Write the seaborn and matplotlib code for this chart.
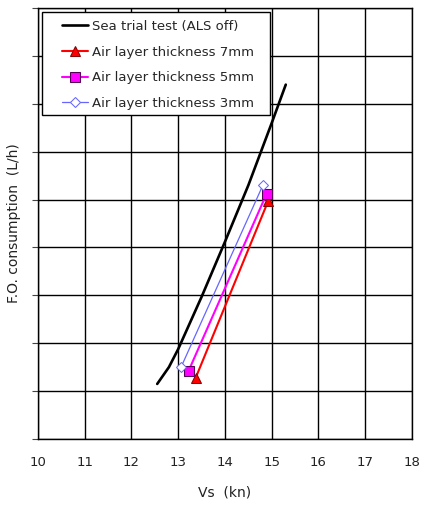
import matplotlib
matplotlib.use("Agg")
import matplotlib.pyplot as plt
from matplotlib.patches import Rectangle
import seaborn as sns
import pandas as pd

sns.set_style("white")
plt.rcParams['font.family'] = ['DejaVu Sans']

# Sea trial (ALS off)
sea_vs = [12.55, 12.8, 13.0, 13.5, 14.0, 14.5, 15.0, 15.3]
sea_fo = [1.15, 1.5, 1.88, 2.97, 4.12, 5.3, 6.6, 7.4]

# Air layer thickness series
vs_7mm = [13.37, 14.92]
fo_7mm = [1.27, 4.96]
vs_5mm = [13.22, 14.89]
fo_5mm = [1.42, 5.12]
vs_3mm = [13.06, 14.81]
fo_3mm = [1.50, 5.30]

x_ticks = [10, 11, 12, 13, 14, 15, 16, 17, 18]

W, H = 421, 505
fig = plt.figure(figsize=(W / 100, H / 100), dpi=100)
ax = fig.add_axes([38 / W, (H - 439) / H, 374 / W, 431 / H])

sea = pd.DataFrame({"Vs": sea_vs, "FO": sea_fo})
sns.lineplot(data=sea, x="Vs", y="FO", ax=ax, color="black", lw=1.9,
             sort=False, label="Sea trial test (ALS off)")
sns.lineplot(x=vs_7mm, y=fo_7mm, ax=ax, color="red", lw=1.5, marker="^",
             markersize=7, markerfacecolor="red", markeredgecolor="darkred",
             label="Air layer thickness 7mm")
sns.lineplot(x=vs_5mm, y=fo_5mm, ax=ax, color="magenta", lw=1.5, marker="s",
             markersize=7, markerfacecolor="magenta", markeredgecolor="#550055",
             label="Air layer thickness 5mm")
sns.lineplot(x=vs_3mm, y=fo_3mm, ax=ax, color="#6666ff", lw=0.9, marker="D",
             markersize=5, markerfacecolor="white", markeredgecolor="#6666ff",
             label="Air layer thickness 3mm")

ax.set_xlim(10, 18)
ax.set_ylim(0, 9)
ax.set_xticks(x_ticks)
ax.set_yticks(range(0, 10))
ax.set_yticklabels([])
ax.grid(True, color="black", lw=1.0)
for s in ax.spines.values():
    s.set_color("black")
    s.set_linewidth(1.0)
ax.tick_params(axis="x", length=0, pad=12, labelsize=9.5, colors="#222222")
ax.tick_params(axis="y", length=4, left=True, color="#444444")
ax.set_xlabel("Vs  (kn)", fontsize=10, labelpad=12, color="#222222")
ax.set_ylabel("F.O. consumption  (L/h)", fontsize=10, labelpad=5, color="#222222")

# legend frame (wider side padding than matplotlib allows)
frame = Rectangle((42 / W, (H - 115) / H), 228 / W, 103 / H,
                  transform=fig.transFigure, facecolor="white",
                  edgecolor="black", lw=1.0, zorder=4)
ax.add_patch(frame)
frame.set_clip_on(False)

leg = ax.legend(loc="upper left",
                bbox_to_anchor=((62 - 38) / 374, (439 - 20) / 431),
                fontsize=9.5, frameon=False, borderaxespad=0, borderpad=0,
                handlelength=2.0, handletextpad=0.25, labelspacing=0.96)
leg.set_zorder(5)

fig.savefig("out.png", dpi=100)
